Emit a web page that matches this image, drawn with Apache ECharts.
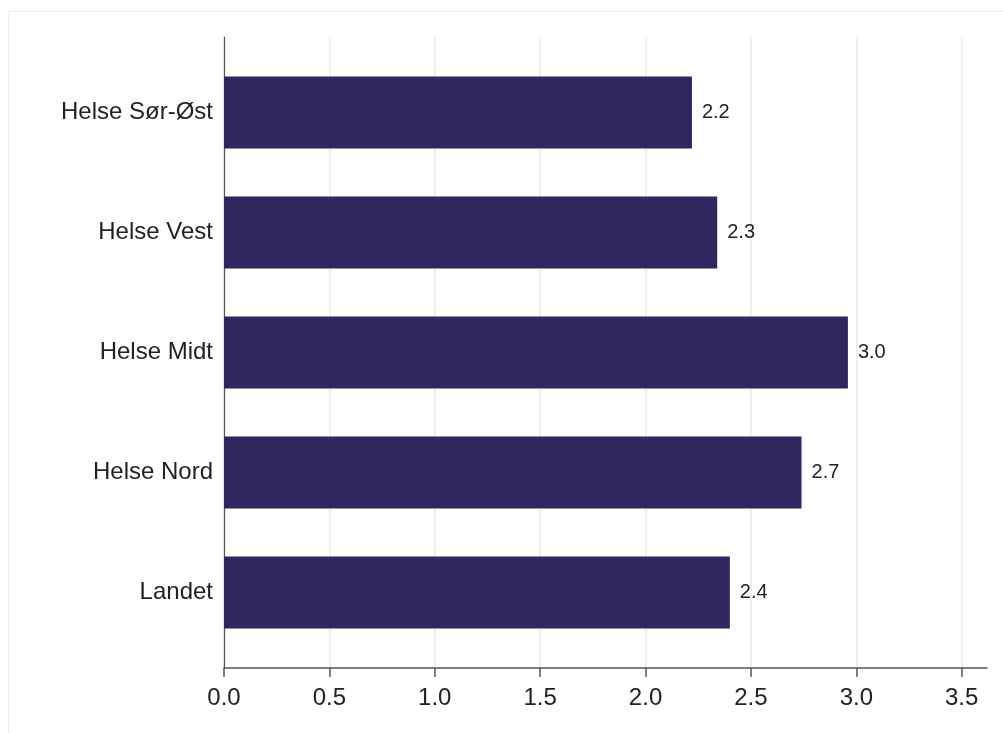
<!DOCTYPE html>
<html>
<head>
<meta charset="utf-8">
<script src="https://cdn.jsdelivr.net/npm/echarts@6/dist/echarts.min.js"></script>
<style>
  html, body { margin: 0; padding: 0; background: #ffffff; }
  #chart { width: 1003px; height: 733px; }
</style>
</head>
<body>
<div id="chart"></div>
<script>
// Regions, top to bottom
const regions = ['Helse Sør-Øst', 'Helse Vest', 'Helse Midt', 'Helse Nord', 'Landet'];
const values = [2.22, 2.34, 2.96, 2.74, 2.40];
// Value-axis tick positions
const xTicks = [0, 0.5, 1, 1.5, 2, 2.5, 3, 3.5];
const xMax = 3.62;

const FONT = '"Liberation Sans", Arial, sans-serif';
const BAR = '#2e275f';
const AXIS = '#555555';
const GRIDLINE = '#e4eef2';

const chart = echarts.init(document.getElementById('chart'), null, { renderer: 'canvas' });

chart.setOption({
  backgroundColor: '#ffffff',
  animation: false,
  graphic: [{
    type: 'rect',
    silent: true,
    z: -10,
    shape: { x: 8.5, y: 11.5, width: 1000, height: 730 },
    style: { fill: 'none', stroke: '#e9eff3', lineWidth: 1 }
  }],
  grid: [
    // frame: axis lines, ticks and gridlines
    { left: 224, right: 16, top: 37, bottom: 65 },
    // bars and category labels
    { left: 224, right: 16, top: 52.5, bottom: 80.5 }
  ],
  xAxis: [
    {
      gridIndex: 0,
      type: 'value',
      min: 0,
      max: xMax,
      axisLine: { show: true, lineStyle: { color: AXIS, width: 1.5 } },
      axisTick: { show: true, length: 9, customValues: xTicks, lineStyle: { color: AXIS, width: 1.5 } },
      axisLabel: {
        customValues: xTicks,
        margin: 18,
        fontFamily: FONT,
        fontSize: 24,
        color: '#222222',
        formatter: v => v.toFixed(1)
      },
      splitLine: { show: true, lineStyle: { color: GRIDLINE, width: 1.5 } }
    },
    {
      gridIndex: 1,
      type: 'value',
      min: 0,
      max: xMax,
      show: false
    }
  ],
  yAxis: [
    {
      gridIndex: 0,
      type: 'value',
      min: 0,
      max: 1,
      axisLine: { show: true, lineStyle: { color: AXIS, width: 1.2 } },
      axisTick: { show: false },
      axisLabel: { show: false },
      splitLine: { show: false }
    },
    {
      gridIndex: 1,
      type: 'category',
      inverse: true,
      data: regions,
      axisLine: { show: false },
      axisTick: { show: false },
      axisLabel: {
        margin: 11,
        fontFamily: FONT,
        fontSize: 24,
        color: '#222222'
      },
      splitLine: { show: false }
    }
  ],
  series: [{
    type: 'bar',
    xAxisIndex: 1,
    yAxisIndex: 1,
    data: values,
    barWidth: '60%',
    itemStyle: { color: BAR },
    label: {
      show: true,
      position: 'right',
      distance: 10,
      fontFamily: FONT,
      fontSize: 20,
      color: '#222222',
      formatter: p => p.value.toFixed(1)
    }
  }]
});
</script>
</body>
</html>
